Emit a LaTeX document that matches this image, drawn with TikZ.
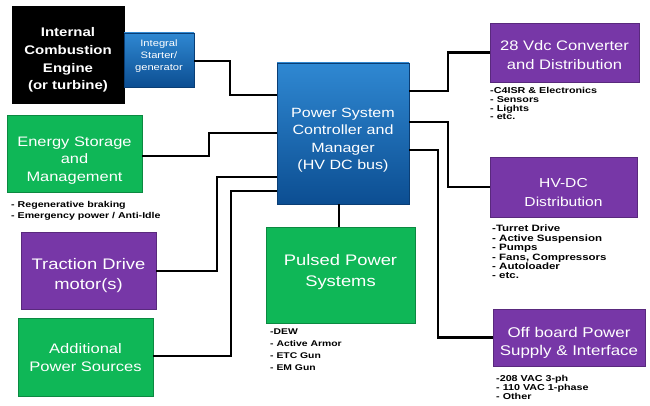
\documentclass[tikz,border=0pt]{standalone}
\usepackage{fontspec}
\setmainfont{Liberation Sans}
\newfontfamily\mf[FakeStretch=1.2]{Liberation Sans}
\newfontfamily\bulfont[FakeStretch=1.25]{Liberation Sans}
\usetikzlibrary{shadows}
\definecolor{pgreen}{HTML}{0FB757}
\definecolor{ppurple}{HTML}{7737A7}
\definecolor{btop}{HTML}{2F88D2}
\definecolor{bbot}{HTML}{0C4E92}
\begin{document}
\begin{tikzpicture}[x=1pt,y=-1pt,
  shad/.style={drop shadow={shadow xshift=1.3pt,shadow yshift=-1.3pt,opacity=0.35,fill=black}},
  box/.style={draw=#1!75!black, line width=0.5pt, fill=#1, inner sep=0pt, shad},
  bluebox/.style={draw=bbot!80!black, line width=0.5pt, top color=btop, bottom color=bbot, inner sep=0pt, shad},
  lab/.style={text=white, align=center, inner sep=0pt},
  conn/.style={draw=black, line width=2.4pt, line join=miter},
  bul/.style={anchor=north west, inner sep=0pt, align=left, text=black}]
\useasboundingbox (0,0) rectangle (650,406);

\coordinate (c1) at (230,61);
\coordinate (c2) at (230,95);
\coordinate (c3) at (209,133);
\coordinate (c4) at (217,177);
\coordinate (c5) at (231,191);
\coordinate (c6) at (448,91);
\coordinate (c7) at (448,122);
\coordinate (c8) at (438,150);

% boxes
\node[box=black, minimum width=112pt, minimum height=97pt] (ice) at (68,54.5) {};
\node[bluebox, minimum width=70pt, minimum height=54pt] (starter) at (159,60) {};
\node[bluebox, minimum width=132pt, minimum height=141pt] (ctrl) at (343,133.5) {};
\node[box=pgreen, minimum width=135pt, minimum height=77pt] (esm) at (74.5,153.5) {};
\node[box=ppurple, minimum width=135pt, minimum height=77pt] (td) at (88.5,270.5) {};
\node[box=pgreen, minimum width=135pt, minimum height=78pt] (aps) at (85.5,357) {};
\node[box=pgreen, minimum width=149pt, minimum height=96pt] (pulsed) at (340.5,275) {};
\node[box=ppurple, minimum width=149pt, minimum height=59pt] (v28) at (564.5,52.5) {};
\node[box=ppurple, minimum width=147pt, minimum height=60pt] (hvdc) at (563.5,187) {};
\node[box=ppurple, minimum width=152pt, minimum height=57pt] (off) at (569,337.5) {};

% box texts
\node[lab, font=\mf\bfseries\fontsize{12.5}{17.7}\selectfont] (icet) at (68,60) {Internal\\Combustion\\Engine\\(or turbine)};
\node[lab, font=\mf\fontsize{9.3}{12}\selectfont] (startert) at (159,56.5) {Integral\\Starter/\\generator};
\node[lab, font=\mf\fontsize{13.4}{17.5}\selectfont] (ctrlt) at (343,140) {Power System\\Controller and\\Manager\\(HV DC bus)};
\node[lab, font=\mf\fontsize{13.7}{17.5}\selectfont] (esmt) at (74.5,160.5) {Energy Storage\\and\\Management};
\node[lab, font=\mf\fontsize{15.3}{20}\selectfont] (tdt) at (88.5,275.5) {Traction Drive\\motor(s)};
\node[lab, font=\mf\fontsize{13.8}{18}\selectfont] (apst) at (85.5,358) {Additional\\Power Sources};
\node[lab, font=\mf\fontsize{15.3}{21}\selectfont] (pulsedt) at (340.5,272) {Pulsed Power\\Systems};
\node[lab, font=\mf\fontsize{13.8}{19}\selectfont] (v28t) at (564.5,55) {28 Vdc Converter\\and Distribution};
\node[lab, font=\mf\fontsize{13}{19}\selectfont] (hvdct) at (563.5,192.5) {HV-DC\\Distribution};
\node[lab, font=\mf\fontsize{14.1}{17.5}\selectfont] (offt) at (569,343) {Off board Power\\Supply \& Interface};

% connectors
\draw[conn] (starter.east |- c1) -- (c1) -- (c2) -- (ctrl.west |- c2);
\draw[conn] (esm.east |- 0,156) -| (c3) -- (ctrl.west |- c3);
\draw[conn] (ctrl.west |- c4) -- (c4) |- (td.east |- 0,271);
\draw[conn] (ctrl.west |- c5) -- (c5) |- (aps.east |- 0,356);
\draw[conn] (ctrl.south -| 339,0) -- (pulsed.north -| 339,0);
\draw[conn] (ctrl.east |- c6) -- (c6) |- (v28.west);
\draw[conn] (ctrl.east |- c7) -- (c7) |- (hvdc.west);
\draw[conn] (ctrl.east |- c8) -- (c8) |- (off.west);

% bullet lists
\node[bul, font=\bulfont\bfseries\fontsize{8.6}{8.8}\selectfont] (l28) at (490,87) {-C4ISR \& Electronics\\- Sensors\\- Lights\\- etc.};
\node[bul, font=\bulfont\bfseries\fontsize{9.2}{9.4}\selectfont] (lhv) at (492,225) {-Turret Drive\\- Active Suspension\\- Pumps\\- Fans, Compressors\\- Autoloader\\- etc.};
\node[bul, font=\bulfont\bfseries\fontsize{8.6}{9}\selectfont] (loff) at (496,375) {-208 VAC 3-ph\\- 110 VAC 1-phase\\- Other};
\node[bul, font=\bulfont\bfseries\fontsize{8.5}{11.5}\selectfont] (lesm) at (11,201) {- Regenerative braking\\- Emergency power / Anti-Idle};
\node[bul, font=\bulfont\bfseries\fontsize{8.3}{12}\selectfont] (lpul) at (270,329) {-DEW\\- Active Armor\\- ETC Gun\\- EM Gun};
\end{tikzpicture}
\end{document}
